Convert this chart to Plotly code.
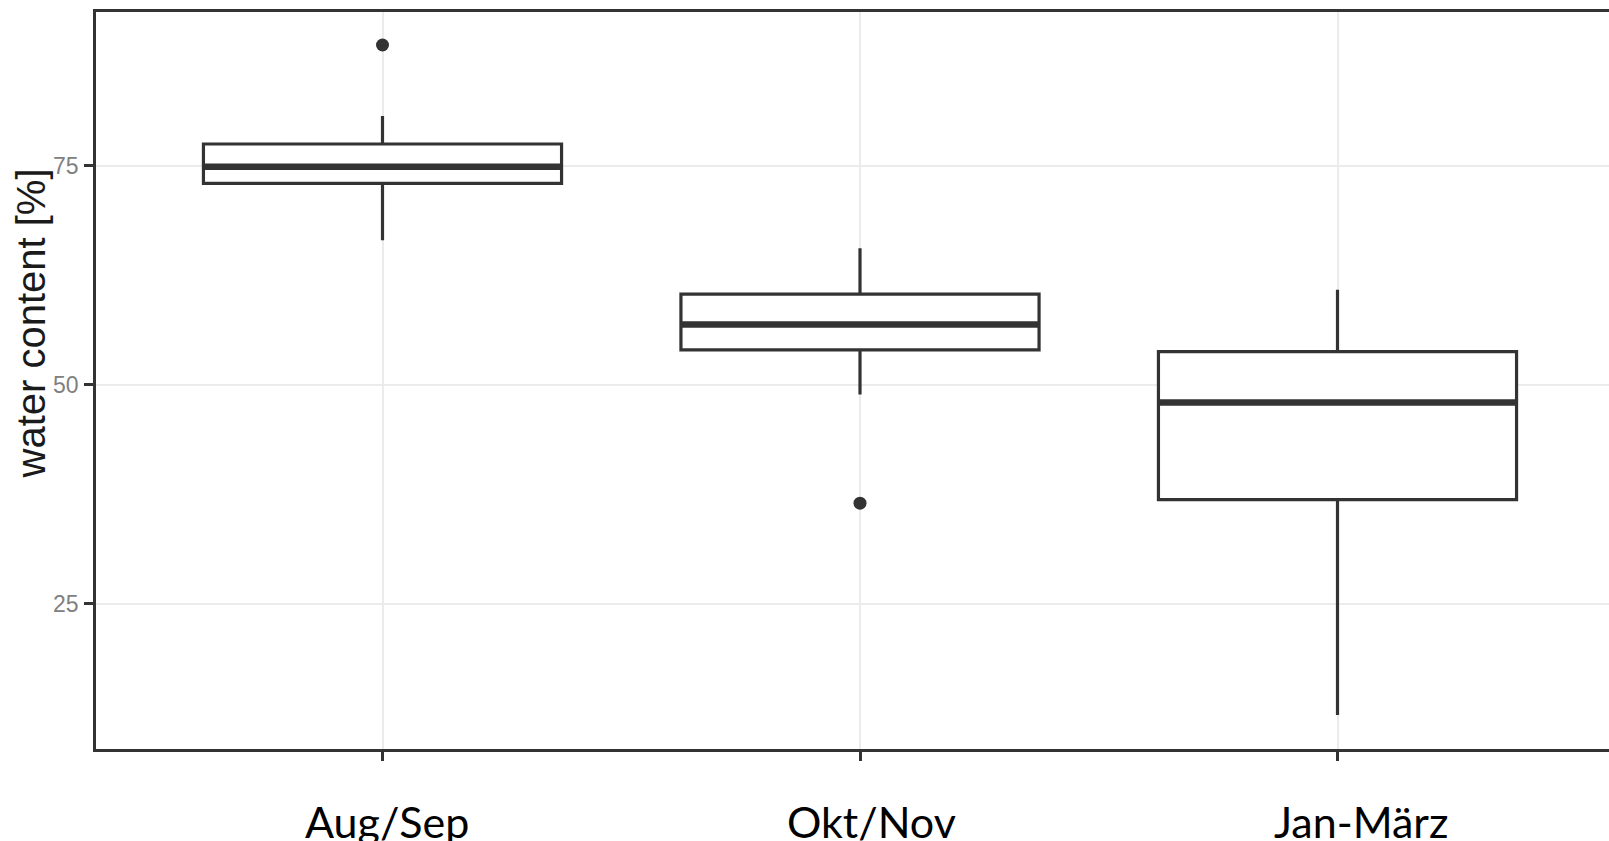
import plotly.graph_objects as go

categories = ["Aug/Sep", "Okt/Nov", "Jan-März"]
q1 = [73.0, 54.0, 36.9]
median = [74.9, 56.9, 48.0]
q3 = [77.5, 60.35, 53.8]
lower_whisker = [66.5, 48.9, 12.3]
upper_whisker = [80.7, 65.6, 60.85]
outlier_cat = [0, 1]
outlier_val = [88.8, 36.5]
y_ticks = [25, 50, 75]
y_title = "water content [%]"

BOX_W = 0.75
DARK = "#333333"

fig = go.Figure()
xs = list(range(len(categories)))
fig.add_trace(go.Box(
    x=xs, q1=q1, median=median, q3=q3,
    lowerfence=lower_whisker, upperfence=upper_whisker,
    width=BOX_W, whiskerwidth=0,
    line=dict(color=DARK, width=3.2), fillcolor="white",
    boxpoints=False, showlegend=False, hoverinfo="skip",
))
# thicker median lines (ggplot style)
for i, m in zip(xs, median):
    fig.add_trace(go.Scatter(
        x=[i - BOX_W / 2, i + BOX_W / 2], y=[m, m], mode="lines",
        line=dict(color=DARK, width=6.5), showlegend=False, hoverinfo="skip",
    ))
fig.add_trace(go.Scatter(
    x=outlier_cat, y=outlier_val, mode="markers",
    marker=dict(color=DARK, size=13), showlegend=False, hoverinfo="skip",
))

# x-axis labels placed as annotations (slightly offset as in original)
shifts = [4, 11, 23]
for i, (lab, sh) in enumerate(zip(categories, shifts)):
    fig.add_annotation(
        x=i, xref="x", y=-0.095, yref="paper", text=lab, showarrow=False,
        xshift=sh, yshift=-2, yanchor="middle", xanchor="center",
        font=dict(family="Lato", size=43, color="black"),
    )
fig.add_annotation(
    x=0, xref="paper", y=(749 - 323.5) / 737, yref="paper", text=y_title,
    textangle=-90, showarrow=False, xshift=-66, xanchor="center", yanchor="middle",
    font=dict(family="Liberation Sans", size=40, color="#1a1a1a"),
)

fig.update_layout(
    width=1609, height=841,
    margin=dict(l=96, r=0, t=12, b=92),
    paper_bgcolor="white", plot_bgcolor="white",
    xaxis=dict(
        range=[-0.6, -0.6 + 1513 / 477.5],
        tickvals=xs, ticktext=["", "", ""],
        showgrid=True, gridcolor="#ebebeb", gridwidth=1.5,
        showline=True, linecolor=DARK, linewidth=2.5, mirror=True,
        ticks="outside", ticklen=9, tickwidth=2.5, tickcolor=DARK,
        zeroline=False,
    ),
    yaxis=dict(
        range=[8.43, 92.57],
        tickvals=y_ticks, ticktext=[str(v) for v in y_ticks],
        tickfont=dict(family="Liberation Sans", size=23, color="#808080"),
        showgrid=True, gridcolor="#ebebeb", gridwidth=1.5,
        showline=True, linecolor=DARK, linewidth=2.5, mirror=False,
        ticks="outside", ticklen=9, tickwidth=2.5, tickcolor=DARK,
        zeroline=False, ticklabelstandoff=1,
    ),
)

fig.write_html(
    "out.html",
    config={"displayModeBar": False},
    post_script="document.body.style.margin='0';document.body.style.overflow='hidden';",
)
